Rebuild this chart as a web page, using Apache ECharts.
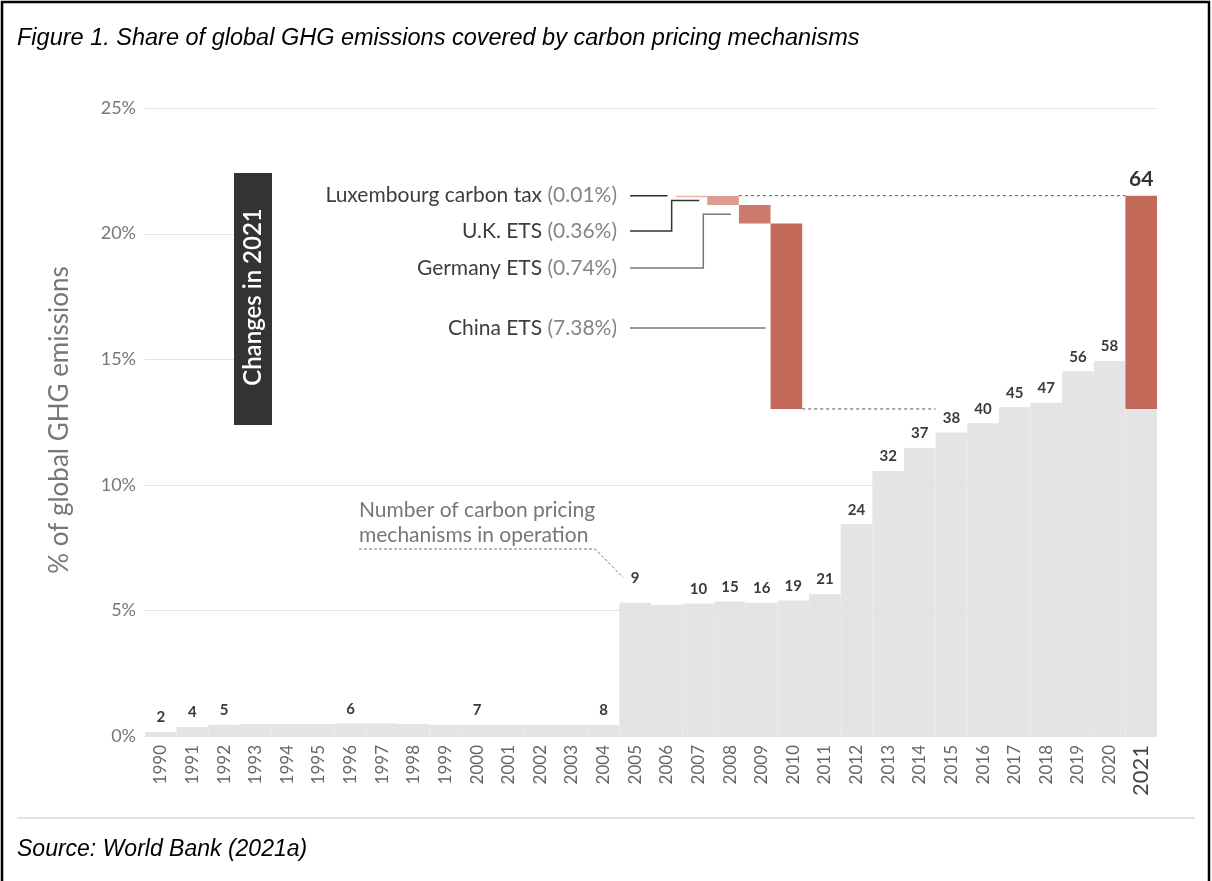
<!DOCTYPE html>
<html>
<head>
<meta charset="utf-8">
<title>Share of global GHG emissions covered by carbon pricing</title>
<script src="https://cdn.jsdelivr.net/npm/echarts@6/dist/echarts.min.js"></script>
<style>
  html, body { margin: 0; padding: 0; background: #fff; }
  #main { width: 1212px; height: 881px; }
</style>
</head>
<body>
<div id="main"></div>
<script>
// ---- data ----
var years = ['1990', '1991', '1992', '1993', '1994', '1995', '1996', '1997', '1998', '1999',
  '2000', '2001', '2002', '2003', '2004', '2005', '2006', '2007', '2008', '2009',
  '2010', '2011', '2012', '2013', '2014', '2015', '2016', '2017', '2018', '2019',
  '2020', '2021'];
// share of global GHG emissions covered (%), 2021 = coverage before the new schemes
var shares = [0.16, 0.36, 0.45, 0.47, 0.48, 0.48, 0.50, 0.50, 0.48, 0.44,
  0.44, 0.44, 0.44, 0.44, 0.44, 5.31, 5.21, 5.27, 5.35, 5.31,
  5.39, 5.65, 8.43, 10.55, 11.47, 12.08, 12.45, 13.09, 13.27, 14.52,
  14.93, 13.02];
// number of mechanisms in operation (only labelled years)
var counts = [2, 4, 5, null, null, null, 6, null, null, null,
  7, null, null, null, 8, 9, null, 10, 15, 16,
  19, 21, 24, 32, 37, 38, 40, 45, 47, 56,
  58, 64];
// changes in 2021
var changeNames = ['Luxembourg carbon tax', 'U.K. ETS', 'Germany ETS', 'China ETS'];
var changeValues = [0.01, 0.36, 0.74, 7.38];
var changeSlots = ['2007', '2008', '2009', '2010'];
var yMax = 25;
var yStep = 5;

// ---- styling ----
var FONT = 'Lato, "Noto Sans", sans-serif';
var changeColors = ['#eeb2a6', '#dc9c8f', '#cb7a6b', '#c4695a'];
var SHIFT = -0.22; // waterfall bars sit a little left of their slot
var GRID = { left: 145, right: 55, top: 108, bottom: 145 };

var lastIdx = years.length - 1;
var base2021 = shares[lastIdx];
var added2021 = changeValues.reduce(function (a, b) { return a + b; }, 0);
var total2021 = base2021 + added2021;

// waterfall pieces stepping down from the 2021 total
var steps = [];
var level = total2021;
changeValues.forEach(function (v, i) {
  steps.push([years.indexOf(changeSlots[i]), level - v, level]);
  level -= v;
});

var redData = years.map(function (y, i) {
  return i === lastIdx ? +added2021.toFixed(2) : null;
});

var chart = echarts.init(document.getElementById('main'));

function renderStep(params, api) {
  var idx = api.value(0);
  var lo = api.coord([idx, api.value(1)]);
  var hi = api.coord([idx, api.value(2)]);
  var bw = api.size([1, 0])[0];
  var h = Math.max(lo[1] - hi[1], 1.5);
  return {
    type: 'rect',
    shape: { x: lo[0] - bw / 2 + SHIFT * bw, y: hi[1], width: bw, height: h },
    style: { fill: changeColors[params.dataIndex] }
  };
}

var option = {
  animation: false,
  backgroundColor: '#fff',
  textStyle: { fontFamily: FONT },
  grid: GRID,
  xAxis: {
    type: 'category',
    data: years,
    axisLine: { show: false },
    axisTick: { show: false },
    axisLabel: {
      rotate: 90,
      interval: 0,
      margin: 9,
      fontSize: 17,
      color: '#666',
      fontFamily: FONT,
      formatter: function (v, i) { return i === lastIdx ? '{big|' + v + '}' : v; },
      rich: { big: { fontSize: 22, color: '#444', fontFamily: FONT } }
    }
  },
  yAxis: {
    type: 'value',
    min: 0,
    max: yMax,
    interval: yStep,
    axisLine: { show: false },
    axisTick: { show: false },
    axisLabel: { formatter: '{value}%', fontSize: 18, color: '#777', margin: 9, fontFamily: FONT },
    splitLine: {
      lineStyle: {
        width: 1,
        // 15% and 20% lines are drawn short, by hand, below
        color: ['#e3e3e3', '#e3e3e3', '#e3e3e3', 'rgba(0,0,0,0)', 'rgba(0,0,0,0)', '#e3e3e3']
      }
    }
  },
  series: [
    {
      type: 'bar',
      name: 'covered',
      data: shares,
      stack: 'total',
      barCategoryGap: '0%',
      barGap: '0%',
      itemStyle: { color: '#e4e4e4', borderColor: '#e4e4e4', borderWidth: 1 },
      label: {
        show: true,
        position: 'top',
        distance: 7,
        fontSize: 15,
        fontWeight: 'bold',
        color: '#3a3a3a',
        fontFamily: FONT,
        formatter: function (p) {
          var c = counts[p.dataIndex];
          return (p.dataIndex !== lastIdx && c != null) ? String(c) : '';
        }
      },
      labelLayout: function (p) {
        if (p.dataIndex === 15) return { dy: -10 };
        return {};
      }
    },
    {
      type: 'bar',
      name: 'added 2021',
      data: redData,
      stack: 'total',
      barCategoryGap: '0%',
      barGap: '0%',
      itemStyle: { color: '#c4695a' },
      label: {
        show: true,
        position: 'top',
        distance: 6,
        fontSize: 21,
        fontWeight: 'bold',
        color: '#333',
        fontFamily: FONT,
        formatter: function (p) { return p.dataIndex === lastIdx ? String(counts[lastIdx]) : ''; }
      }
    },
    {
      type: 'custom',
      name: 'changes',
      data: steps,
      renderItem: renderStep,
      encode: { x: 0, y: [1, 2] },
      z: 3
    }
  ]
};

chart.setOption(option);

// ---- annotations placed with the chart's own scales ----
function px(cat, val) {
  return chart.convertToPixel({ xAxisIndex: 0, yAxisIndex: 0 }, [cat, val]);
}
var bw = (1212 - GRID.left - GRID.right) / years.length;

var g = [];
// frame, title, source
g.push({ type: 'polyline', shape: { points: [[2, 900], [2, 2], [1209, 2], [1209, 900]] },
  style: { stroke: '#000', lineWidth: 2.5, fill: null } });
g.push({ type: 'text', x: 17, y: 38, style: { text: 'Figure 1. Share of global GHG emissions covered by carbon pricing mechanisms',
  font: 'italic 23.5px "Liberation Sans", sans-serif', fill: '#000', verticalAlign: 'middle' } });
g.push({ type: 'line', shape: { x1: 17, y1: 818, x2: 1195, y2: 818 }, style: { stroke: '#e2e2e2', lineWidth: 2 } });
g.push({ type: 'text', x: 17, y: 850, style: { text: 'Source: World Bank (2021a)',
  font: 'italic 23px "Liberation Sans", sans-serif', fill: '#000', verticalAlign: 'middle' } });

// y axis title
g.push({ type: 'text', x: 60, y: 420, rotation: Math.PI / 2, style: { text: '% of global GHG emissions',
  font: '26px ' + FONT, fill: '#777', align: 'center', verticalAlign: 'middle' } });

// short grid lines at 15% and 20%
var boxLeft = 234, boxRight = 272;
[15, 20].forEach(function (v) {
  var y = Math.round(px(0, v)[1]) + 0.5;
  g.push({ type: 'line', shape: { x1: GRID.left, y1: y, x2: boxLeft, y2: y }, style: { stroke: '#e3e3e3', lineWidth: 1 } });
});

// "Changes in 2021" box
g.push({ type: 'rect', shape: { x: boxLeft, y: 173, width: boxRight - boxLeft, height: 252 }, style: { fill: '#333' } });
g.push({ type: 'text', x: (boxLeft + boxRight) / 2, y: 297, rotation: Math.PI / 2, style: { text: 'Changes in 2021',
  font: '600 24px ' + FONT, fill: '#fff', align: 'center', verticalAlign: 'middle' } });

// change labels and leader lines
var labelX = 617, lineX = 630;
var labelYs = [195, 231, 268, 328];
var leaderColors = ['#333', '#333', '#777', '#777'];
steps.forEach(function (s, i) {
  g.push({ type: 'text', x: labelX, y: labelYs[i], style: {
    text: '{n|' + changeNames[i] + ' }{p|(' + changeValues[i].toFixed(2) + '%)}',
    align: 'right', verticalAlign: 'middle',
    rich: {
      n: { fill: '#3d3d3d', fontSize: 21, fontFamily: FONT },
      p: { fill: '#858585', fontSize: 21, fontFamily: FONT }
    } } });
  var topPt = px(s[0], s[2]);
  var botPt = px(s[0], s[1]);
  var left = topPt[0] - bw / 2 + SHIFT * bw;
  var midY = (topPt[1] + botPt[1]) / 2;
  var pts;
  if (i === 0) {
    pts = [[lineX, topPt[1]], [left - 8, topPt[1]]];
  } else if (i === steps.length - 1) {
    pts = [[lineX, labelYs[i]], [left - 5, labelYs[i]]];
  } else {
    var ex = left - bw - 4;
    pts = [[lineX, labelYs[i]], [ex, labelYs[i]], [ex, midY], [left - 8, midY]];
  }
  g.push({ type: 'polyline', shape: { points: pts }, style: { stroke: leaderColors[i], lineWidth: 1.5, fill: null } });
});

// dashed connectors
var ukTop = px(steps[1][0], total2021);
var ukRight = ukTop[0] + bw / 2 + SHIFT * bw;
var endLeft = px(lastIdx, total2021)[0] - bw / 2;
g.push({ type: 'line', shape: { x1: ukRight, y1: ukTop[1], x2: endLeft, y2: ukTop[1] },
  style: { stroke: '#555', lineWidth: 1, lineDash: [3, 3] } });
var chinaBot = px(steps[3][0], base2021);
var chinaRight = chinaBot[0] + bw / 2 + SHIFT * bw;
var stopX = px(years.indexOf('2015'), base2021)[0] - bw / 2;
g.push({ type: 'line', shape: { x1: chinaRight, y1: chinaBot[1], x2: stopX, y2: chinaBot[1] },
  style: { stroke: '#555', lineWidth: 1, lineDash: [3, 3] } });

// "Number of carbon pricing mechanisms" note
g.push({ type: 'text', x: 359, y: 510, style: { text: 'Number of carbon pricing', font: '21px ' + FONT, fill: '#777', verticalAlign: 'middle' } });
g.push({ type: 'text', x: 359, y: 535, style: { text: 'mechanisms in operation', font: '21px ' + FONT, fill: '#777', verticalAlign: 'middle' } });
var p05 = px(years.indexOf('2005'), shares[years.indexOf('2005')]);
g.push({ type: 'polyline', shape: { points: [[359, 549], [595, 549], [p05[0] - 12, p05[1] - 25]] },
  style: { stroke: '#777', lineWidth: 1, lineDash: [3, 2], fill: null } });

chart.setOption({ graphic: g });
</script>
</body>
</html>
